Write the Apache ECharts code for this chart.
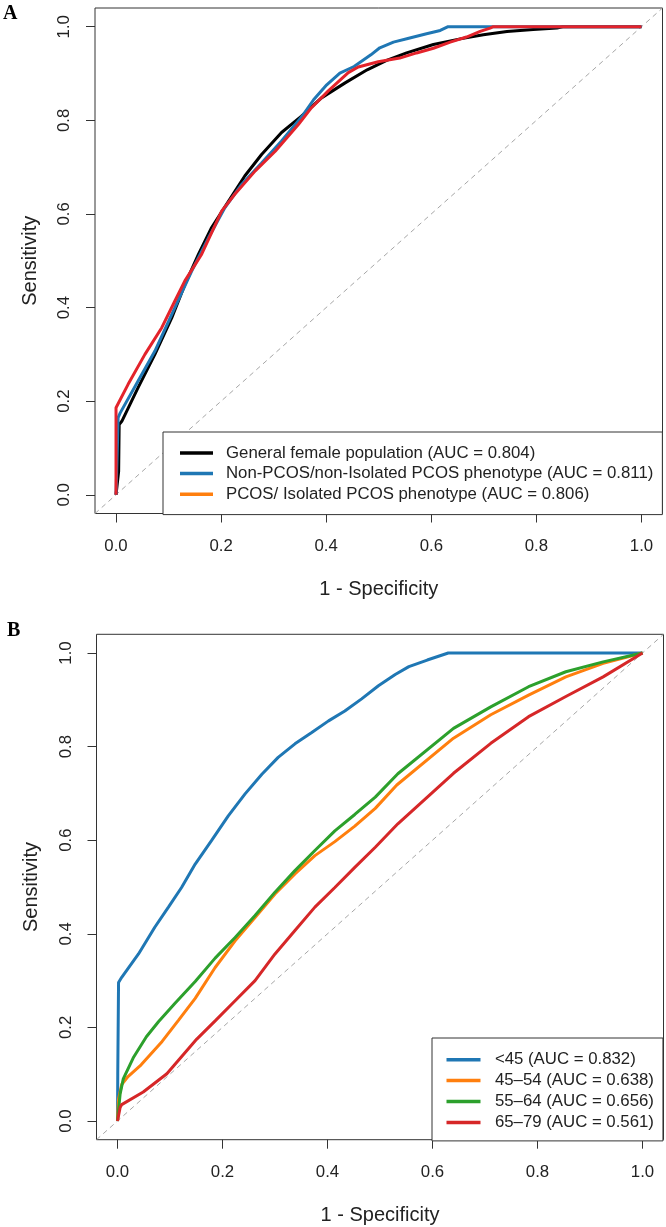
<!DOCTYPE html>
<html><head><meta charset="utf-8">
<script src="https://cdn.jsdelivr.net/npm/echarts@6/dist/echarts.min.js"></script>
<style>html,body{margin:0;padding:0;background:#fff}#c{width:666px;height:1227px}</style>
</head><body><div id="c"></div>
<script>
// ---------- data ----------
const tickValues = [0, 0.2, 0.4, 0.6, 0.8, 1.0];
const chanceLine = [[-0.04, -0.04], [1.04, 1.04]];

// Panel A
const legendA = [
  'General female population (AUC = 0.804)',
  'Non-PCOS/non-Isolated PCOS phenotype (AUC = 0.811)',
  'PCOS/ Isolated PCOS phenotype (AUC = 0.806)'
];
const genPop = [[0,0],[0.005,0.05],[0.006,0.15],[0.011,0.157],[0.042,0.229],[0.074,0.300],[0.106,0.378],[0.131,0.449],[0.157,0.514],[0.182,0.571],[0.214,0.627],[0.245,0.681],[0.277,0.727],[0.315,0.774],[0.353,0.809],[0.391,0.848],[0.436,0.880],[0.478,0.908],[0.515,0.928],[0.553,0.944],[0.604,0.962],[0.655,0.974],[0.699,0.983],[0.744,0.990],[0.794,0.994],[0.839,0.997],[0.85,1.0],[1,1]];
const nonPcos = [[0,0],[0.003,0.12],[0.004,0.165],[0.008,0.175],[0.042,0.243],[0.074,0.307],[0.112,0.400],[0.144,0.478],[0.176,0.549],[0.207,0.613],[0.239,0.663],[0.277,0.709],[0.315,0.756],[0.355,0.810],[0.376,0.844],[0.401,0.876],[0.426,0.901],[0.453,0.915],[0.485,0.940],[0.502,0.955],[0.528,0.967],[0.559,0.976],[0.591,0.985],[0.617,0.992],[0.632,1.0],[1,1]];
const pcos = [[0,0],[0,0.186],[0.023,0.236],[0.055,0.300],[0.087,0.357],[0.112,0.414],[0.131,0.457],[0.163,0.514],[0.182,0.560],[0.201,0.606],[0.226,0.642],[0.265,0.692],[0.303,0.734],[0.347,0.791],[0.372,0.827],[0.404,0.863],[0.442,0.902],[0.461,0.914],[0.499,0.925],[0.540,0.933],[0.572,0.944],[0.604,0.954],[0.636,0.967],[0.667,0.978],[0.693,0.990],[0.712,0.997],[0.718,1.0],[1,1]];

// Panel B
const legendB = [
  '<45 (AUC = 0.832)',
  '45\u201354 (AUC = 0.638)',
  '55\u201364 (AUC = 0.656)',
  '65\u201379 (AUC = 0.561)'
];
const age45 = [[0,0],[0.0005,0.1],[0.002,0.296],[0.008,0.307],[0.040,0.357],[0.071,0.414],[0.097,0.457],[0.122,0.499],[0.148,0.549],[0.179,0.599],[0.211,0.652],[0.243,0.699],[0.275,0.741],[0.306,0.777],[0.338,0.806],[0.370,0.830],[0.402,0.855],[0.433,0.876],[0.465,0.902],[0.497,0.930],[0.529,0.954],[0.555,0.971],[0.590,0.985],[0.630,1.0],[1,1]];
const age4554 = [[0,0],[0.002,0.047],[0.008,0.078],[0.020,0.095],[0.045,0.120],[0.085,0.170],[0.116,0.215],[0.148,0.262],[0.186,0.328],[0.224,0.385],[0.262,0.435],[0.300,0.485],[0.338,0.528],[0.376,0.567],[0.414,0.597],[0.452,0.630],[0.491,0.668],[0.532,0.718],[0.640,0.818],[0.711,0.868],[0.783,0.910],[0.854,0.949],[0.925,0.978],[1,1]];
const age5564 = [[0,0],[0.005,0.058],[0.011,0.090],[0.030,0.135],[0.055,0.180],[0.078,0.212],[0.110,0.252],[0.148,0.298],[0.186,0.348],[0.224,0.392],[0.262,0.439],[0.300,0.489],[0.338,0.535],[0.376,0.578],[0.414,0.620],[0.452,0.655],[0.491,0.692],[0.534,0.742],[0.640,0.839],[0.711,0.885],[0.783,0.928],[0.854,0.960],[0.925,0.981],[1,1]];
const age6579 = [[0,0],[0.005,0.029],[0.008,0.035],[0.049,0.062],[0.094,0.101],[0.151,0.175],[0.186,0.214],[0.224,0.257],[0.262,0.300],[0.300,0.357],[0.338,0.407],[0.376,0.457],[0.414,0.499],[0.452,0.542],[0.491,0.585],[0.534,0.635],[0.640,0.743],[0.711,0.807],[0.783,0.864],[0.854,0.907],[0.925,0.949],[1,1]];

// ---------- styling ----------
const FF = '"Liberation Sans", Arial, sans-serif';
const C = {black:'#000000', blue:'#1f77b4', orange:'#ff7f0e', green:'#2ca02c', red:'#d62728', redA:'#e3232b'};

function xAx(gi) {
  return {
    type:'value', gridIndex:gi, min:-0.04, max:1.04, position:'bottom',
    axisLine:{show:false, onZero:false}, splitLine:{show:false},
    axisTick:{show:true, customValues:tickValues, length:9, lineStyle:{color:'#333', width:1}},
    axisLabel:{customValues:tickValues, formatter:v=>v.toFixed(1), fontSize:16.8, color:'#222', margin:24, fontFamily:FF},
    name:'1 - Specificity', nameLocation:'middle', nameGap:66,
    nameTextStyle:{fontSize:20, color:'#222', fontFamily:FF}
  };
}
function yAx(gi) {
  return {
    type:'value', gridIndex:gi, min:-0.04, max:1.04, position:'left',
    axisLine:{show:false, onZero:false}, splitLine:{show:false},
    axisTick:{show:true, customValues:tickValues, length:9, lineStyle:{color:'#333', width:1}},
    axisLabel:{customValues:tickValues, formatter:v=>v.toFixed(1), fontSize:16.8, color:'#222', margin:22, rotate:90, fontFamily:FF},
    name:'Sensitivity', nameLocation:'middle', nameGap:55,
    nameTextStyle:{fontSize:20, color:'#222', fontFamily:FF}
  };
}
function curve(name, data, color, gi, z) {
  return {
    type:'line', name, data, xAxisIndex:gi, yAxisIndex:gi,
    showSymbol:false, symbol:'none', z:z||2,
    lineStyle:{color, width:3}, itemStyle:{color}, emphasis:{disabled:true}
  };
}
function chance(gi) {
  return {
    type:'line', data:chanceLine, xAxisIndex:gi, yAxisIndex:gi, showSymbol:false, symbol:'none', silent:true, z:1,
    lineStyle:{color:'#a6a6a6', width:1, type:[5,4]}
  };
}

const chart = echarts.init(document.getElementById('c'), null, {renderer:'canvas'});
chart.setOption({
  animation:false,
  backgroundColor:'#fff',
  textStyle:{fontFamily:FF},
  grid:[
    {left:95, top:8, width:567.5, height:505.5, show:true, borderColor:'#333', borderWidth:1, backgroundColor:'transparent'},
    {left:96.5, top:634.3, width:567, height:505.4, show:true, borderColor:'#333', borderWidth:1, backgroundColor:'transparent'}
  ],
  xAxis:[xAx(0), xAx(1)],
  yAxis:[yAx(0), yAx(1)],
  legend:[
    {data:legendA, orient:'vertical', left:163, top:432, padding:[12.4,9,11.8,17], itemGap:3.7,
     icon:'rect', itemWidth:33, itemHeight:3.5, itemStyle:{borderWidth:0},
     borderColor:'#333', borderWidth:1, backgroundColor:'#fff', selectedMode:false,
     textStyle:{fontSize:16.8, color:'#222', fontFamily:FF, padding:[0,0,0,8]}},
    {data:legendB, orient:'vertical', left:432, top:1038, padding:[13.2,9,10,14.5], itemGap:3.9,
     icon:'rect', itemWidth:34, itemHeight:3.5, itemStyle:{borderWidth:0},
     borderColor:'#333', borderWidth:1, backgroundColor:'#fff', selectedMode:false,
     textStyle:{fontSize:16.8, color:'#222', fontFamily:FF, padding:[0,0,0,9.4]}}
  ],
  series:[
    chance(0),
    curve(legendA[0], genPop, C.black, 0, 2),
    curve(legendA[1], nonPcos, C.blue, 0, 3),
    curve('PCOS/ Isolated PCOS phenotype curve', pcos, C.redA, 0, 4),
    curve(legendA[2], [], C.orange, 0, 4),
    chance(1),
    curve(legendB[0], age45, C.blue, 1, 2),
    curve(legendB[1], age4554, C.orange, 1, 3),
    curve(legendB[2], age5564, C.green, 1, 4),
    curve(legendB[3], age6579, C.red, 1, 5)
  ],
  graphic:[
    {type:'text', left:3, top:4, style:{text:'A', font:'bold 20px "Liberation Serif", "Times New Roman", serif', fill:'#000'}},
    {type:'text', left:7, top:621, style:{text:'B', font:'bold 20px "Liberation Serif", "Times New Roman", serif', fill:'#000'}}
  ]
});
</script></body></html>
